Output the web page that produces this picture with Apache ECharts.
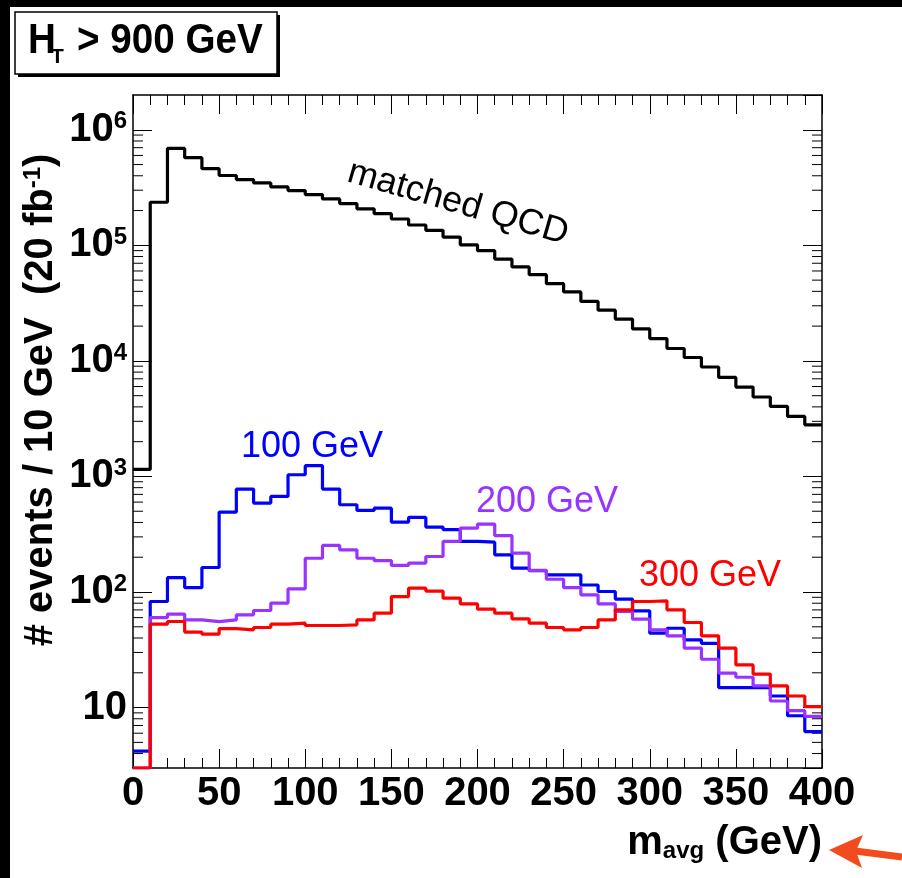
<!DOCTYPE html>
<html>
<head>
<meta charset="utf-8">
<script src="https://cdn.jsdelivr.net/npm/echarts@6/dist/echarts.min.js"></script>
<style>
html,body{margin:0;padding:0;background:#fff;}
#chart{width:902px;height:878px;}
</style>
</head>
<body>
<div id="chart"></div>
<script>
// ---- data (bin low edges, 10 GeV bins) ----
const binLow = [0,10,20,30,40,50,60,70,80,90,100,110,120,130,140,150,160,170,180,190,
                200,210,220,230,240,250,260,270,280,290,300,310,320,330,340,350,360,370,380,390];
const binHigh = 400;

const qcd = [1150,236000,690000,574000,461000,402000,371000,347000,320000,298000,
             275000,252000,230000,207000,188000,169000,150000,135000,118000,101000,
             90000,76000,65000,55700,46600,39500,32700,27500,23000,18900,
             15600,12800,10700,8860,7200,5940,4870,4040,3310,2800];

const m100 = [4.2,82.8,133,109,163,492,778,589,672,1035,
              1239,778,569,508,532,403,442,365,346,274,
              270,210,161,153,141,141,115,101,86.8,68.7,
              44,48.6,38.5,36,14.9,14.9,14.9,12.6,8.5,6.2];

const m200 = [3,60.1,64.4,57.4,55.5,57.4,63.5,69.2,80.2,106.6,
              196,253,232,196,187,170,178,203,274,357,
              387,308,217,154,129,109,94.6,79,67.8,58.2,
              47.1,41.8,32.7,26.2,19.9,18.3,15.4,11.4,9.4,8.4];

const m300 = [3,52.7,55.6,45,43.2,48.3,47.1,49.3,52.7,53.8,
              51.3,51.3,52,57.4,65.6,91.4,108,102,88.5,79,
              71,65.6,58.6,53.8,49.3,47.1,49.3,57.4,70.2,82.8,
              83.9,70.2,54.5,41.8,32.7,23.4,19.5,15.4,12.6,10.2];

const xTickValues = [0,50,100,150,200,250,300,350,400];
const yMinorTickValues = [4,5,6,7,8,9,
  20,30,40,50,60,70,80,90,
  200,300,400,500,600,700,800,900,
  2000,3000,4000,5000,6000,7000,8000,9000,
  20000,30000,40000,50000,60000,70000,80000,90000,
  200000,300000,400000,500000,600000,700000,800000,900000];

const seriesNames = ['matched QCD','100 GeV','200 GeV','300 GeV'];
const seriesColors = ['#000000','#0000ff','#9933ff','#ff0000'];

// ---- build ----
function stepData(vals){
  const pts = binLow.map((x,i)=>[x, vals[i]]);
  pts.push([binHigh, vals[vals.length-1]]);
  return pts;
}

const chart = echarts.init(document.getElementById('chart'), null, {renderer:'canvas'});

const FONT = 'Liberation Sans, Arial, Helvetica, sans-serif';
const labelBold = {fontFamily:FONT, fontWeight:'bold', fontSize:40, color:'#000'};

function xAxisCommon(pos){
  return {
    type:'value', min:0, max:400, interval:50, position:pos,
    axisLine:{show:true, onZero:false, lineStyle:{color:'#000', width:1.5}},
    axisTick:{show:true, inside:true, length:19, lineStyle:{color:'#000', width:1}},
    minorTick:{show:true, splitNumber:5, length:10, lineStyle:{color:'#000', width:1}},
    splitLine:{show:false},
    axisLabel: pos==='bottom' ? Object.assign({show:true, margin:6}, labelBold) : {show:false}
  };
}
function yAxisCommon(pos){
  return {
    type:'log', logBase:10, min:3, max:2000000, position:pos,
    axisLine:{show:true, onZero:false, lineStyle:{color:'#000', width:1.5}},
    axisTick:{show:true, inside:true, length:19, lineStyle:{color:'#000', width:1}},
    minorTick:{show:false},
    splitLine:{show:false},
    axisLabel: pos==='left' ? {
      show:true, margin:6, showMinLabel:false, showMaxLabel:false,
      formatter:function(v){
        const e = Math.log10(v);
        const r = Math.round(e);
        if (Math.abs(e-r) > 1e-6) return '';
        if (r === 1) return '{b|10}';
        return '{b|10}{s|' + r + '}';
      },
      rich:{
        b:{fontFamily:FONT, fontWeight:'bold', fontSize:40, lineHeight:40, color:'#000'},
        s:{fontFamily:FONT, fontWeight:'bold', fontSize:24, lineHeight:16, verticalAlign:'top', color:'#000'}
      }
    } : {show:false}
  };
}

const lineSeries = [qcd, m100, m200, m300].map((vals, i) => ({
  name: seriesNames[i],
  type:'line', step:'end', symbol:'none',
  data: stepData(vals),
  xAxisIndex:0, yAxisIndex:0,
  lineStyle:{color:seriesColors[i], width:3.2},
  itemStyle:{color:seriesColors[i]},
  clip:true, animation:false, z:3+i
}));

const minorTickSeries = {
  type:'custom', xAxisIndex:0, yAxisIndex:0, silent:true, clip:false, animation:false, z:2,
  data: yMinorTickValues.map(v=>[0, v]),
  renderItem:function(params, api){
    const v = api.value(1);
    const pl = api.coord([0, v]);
    const pr = api.coord([400, v]);
    return {type:'group', children:[
      {type:'line', shape:{x1:pl[0], y1:pl[1], x2:pl[0]+10, y2:pl[1]}, style:{stroke:'#000', lineWidth:1}},
      {type:'line', shape:{x1:pr[0], y1:pr[1], x2:pr[0]-10, y2:pr[1]}, style:{stroke:'#000', lineWidth:1}}
    ]};
  }
};

const annoFont = {fontFamily:FONT, fontSize:36, fontWeight:'normal'};
const titleFont = {fontFamily:FONT, fontWeight:'bold', fill:'#000'};

const option = {
  backgroundColor:'#ffffff',
  animation:false,
  grid:{left:133, top:95, width:689, height:673, containLabel:false},
  xAxis:[xAxisCommon('bottom'), xAxisCommon('top')],
  yAxis:[yAxisCommon('left'), yAxisCommon('right')],
  series:[minorTickSeries].concat(lineSeries),
  graphic:[
    // black page border bands
    {type:'rect', shape:{x:0,y:0,width:902,height:7}, style:{fill:'#000'}, z:100},
    {type:'rect', shape:{x:0,y:0,width:10,height:878}, style:{fill:'#000'}, z:100},
    // title pave with shadow
    {type:'rect', shape:{x:18,y:15,width:262,height:62}, style:{fill:'#000'}, z:100},
    {type:'rect', shape:{x:15,y:12,width:262,height:62}, style:{fill:'#fff', stroke:'#000', lineWidth:1.5}, z:101},
    {type:'text', x:28, y:41, scaleX:0.92, z:102,
      style:Object.assign({text:'H', align:'left', verticalAlign:'middle', fontSize:42}, titleFont)},
    {type:'text', x:51, y:57, z:102,
      style:Object.assign({text:'T', align:'left', verticalAlign:'middle', fontSize:21}, titleFont)},
    {type:'text', x:77, y:41, scaleX:0.92, z:102,
      style:Object.assign({text:'> 900 GeV', align:'left', verticalAlign:'middle', fontSize:42}, titleFont)},
    // curve labels
    {type:'text', x:458, y:203, rotation:-16.1*Math.PI/180, z:102,
      style:Object.assign({text:'matched QCD', align:'center', verticalAlign:'middle', fill:'#000'}, annoFont)},
    {type:'text', x:241, y:447, z:102,
      style:Object.assign({text:'100 GeV', align:'left', verticalAlign:'middle', fill:'#0000ff'}, annoFont)},
    {type:'text', x:476, y:502, z:102,
      style:Object.assign({text:'200 GeV', align:'left', verticalAlign:'middle', fill:'#9933ff'}, annoFont)},
    {type:'text', x:639, y:576, z:102,
      style:Object.assign({text:'300 GeV', align:'left', verticalAlign:'middle', fill:'#ff0000'}, annoFont)},
    // y axis title
    {type:'text', x:41, y:400, rotation:Math.PI/2, z:102,
      style:{text:'{a|# events / 10 GeV  (20 fb}{s|-1}{a|)}', align:'center', verticalAlign:'middle',
        rich:{
          a:{fontFamily:FONT, fontWeight:'bold', fontSize:40, lineHeight:40, fill:'#000'},
          s:{fontFamily:FONT, fontWeight:'bold', fontSize:24, lineHeight:16, verticalAlign:'top', fill:'#000'}
        }}},
    // x axis title
    {type:'text', x:822, y:843, z:102,
      style:{text:'{a|m}{b|avg}{a| (GeV)}', align:'right', verticalAlign:'middle',
        rich:{
          a:{fontFamily:FONT, fontWeight:'bold', fontSize:40, lineHeight:40, fill:'#000'},
          b:{fontFamily:FONT, fontWeight:'bold', fontSize:24, lineHeight:22, verticalAlign:'bottom', fill:'#000'}
        }}},
    // red arrow
    {type:'line', shape:{x1:855, y1:851, x2:902, y2:857}, style:{stroke:'#f24b1d', lineWidth:7}, z:102},
    {type:'polygon', shape:{points:[[829,850],[863,835],[856,851],[862,868]]}, style:{fill:'#f24b1d'}, z:103}
  ]
};

chart.setOption(option);
</script>
</body>
</html>
